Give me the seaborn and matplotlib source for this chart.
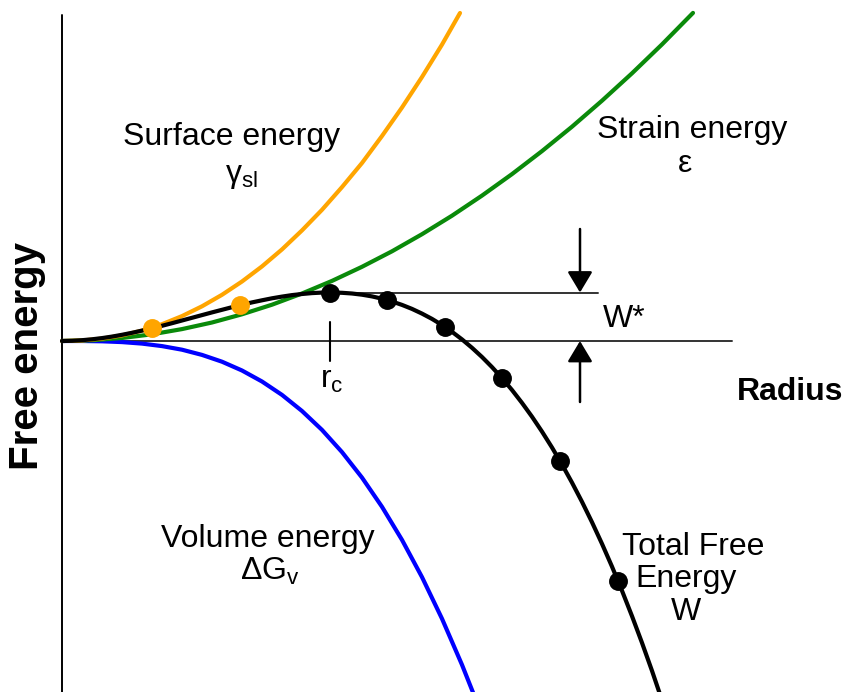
import matplotlib
matplotlib.use("Agg")
import matplotlib.pyplot as plt
import seaborn as sns
import pandas as pd

# ---- data (pixel-like units from the origin) ----
radius_surface = [0, 20, 40, 60, 80, 100, 120, 140, 160, 180, 200, 220, 240, 260,
                  280, 300, 320, 340, 360, 380, 398]
energy_surface = [0, 0.5, 2.4, 5.6, 10.4, 16.8, 24.9, 34.7, 46.2, 59.5, 74.6, 91.6,
                  110.6, 131.2, 153.9, 178, 205, 233.5, 264, 296.4, 328]

radius_strain = [0, 30, 60, 90, 120, 150, 180, 210, 240, 270, 300, 330, 360, 390,
                 420, 450, 480, 510, 540, 570, 600, 631]
energy_strain = [0, 0.7, 3.0, 6.7, 11.9, 18.5, 26.7, 36.3, 47.5, 60.1, 74.2, 89.7,
                 106.8, 125.3, 145.4, 166.9, 189.9, 214.3, 240.3, 267.7, 296.6, 328.1]

radius_volume = [0, 20, 40, 60, 80, 100, 120, 140, 160, 180, 200, 220, 240, 260,
                 280, 300, 320, 340, 360, 380, 400, 412]
energy_volume = [0, 0, -0.3, -1.1, -2.6, -5.1, -8.7, -13.9, -20.7, -29.5, -40.5,
                 -53.9, -70.0, -88.9, -111.1, -136.6, -165.8, -198.9, -236.1,
                 -277.7, -323.8, -354]

radius_total = [0, 10, 20, 30, 40, 50, 60, 70, 80, 90, 100, 110, 120, 130, 140, 150,
                160, 170, 180, 190, 200, 210, 220, 230, 240, 250, 260, 268, 280, 290,
                300, 310, 320, 330, 340, 350, 360, 370, 380, 390, 400, 410, 420, 430,
                440, 450, 460, 470, 480, 490, 500, 510, 520, 530, 540, 550, 560, 570,
                580, 590, 600]
energy_total = [0, 0.2, 0.8, 1.7, 2.9, 4.4, 6.2, 8.2, 10.4, 12.7, 15.2, 17.8, 20.5,
                23.2, 25.9, 28.6, 31.2, 33.8, 36.3, 38.6, 40.7, 42.7, 44.4, 45.9,
                47.0, 47.9, 48.4, 48.5, 48.2, 47.5, 46.3, 44.6, 42.3, 39.5, 36.1,
                32.1, 27.4, 22.1, 16.0, 9.2, 1.6, -6.8, -16.0, -26.1, -37.1, -49.0,
                -61.9, -75.7, -90.6, -106.5, -123.5, -141.6, -160.8, -181.2, -202.8,
                -225.6, -249.7, -275.1, -301.8, -329.8, -359.3]

dots_radius = [268, 325, 383, 440, 498, 556]
dots_energy = [48.5, 41, 14, -37, -120, -240]

nuclei_radius = [90, 178]
nuclei_energy = [12.7, 36]

r_critical = 268
w_star = 48.5

# ---- figure ----
sns.set_theme(style="white")
plt.rcParams["font.family"] = ["Liberation Sans", "DejaVu Sans"]
plt.rcParams["text.color"] = "black"
plt.rcParams["mathtext.fontset"] = "custom"
plt.rcParams["mathtext.rm"] = "Liberation Sans"
plt.rcParams["mathtext.it"] = "Liberation Sans"

fig = plt.figure(figsize=(8.42, 6.92), dpi=100)
ax = fig.add_axes([0, 0, 1, 1])

# axes lines
ax.plot([0, 0], [326, -351], color="black", lw=1.4, zorder=1)
ax.plot([0, 670], [0, 0], color="#333333", lw=1.4, zorder=1)
ax.plot([r_critical, 536], [w_star, w_star], color="#333333", lw=1.4, zorder=1)
ax.plot([r_critical, r_critical], [19, -20], color="black", lw=1.5, zorder=1)

lw = 3.0
line_kw = dict(sort=False, estimator=None, lw=lw, ax=ax, solid_joinstyle="round")
sns.lineplot(data=pd.DataFrame({"r": radius_volume, "e": energy_volume}), x="r", y="e",
             color="#0000ff", zorder=2, **line_kw)
sns.lineplot(data=pd.DataFrame({"r": radius_strain, "e": energy_strain}), x="r", y="e",
             color="#0a8a0a", zorder=3, **line_kw)
sns.lineplot(data=pd.DataFrame({"r": radius_surface, "e": energy_surface}), x="r", y="e",
             color="#ffa500", zorder=4, **line_kw)
sns.lineplot(data=pd.DataFrame({"r": radius_total, "e": energy_total}), x="r", y="e",
             color="black", zorder=5, **line_kw)

sns.scatterplot(x=dots_radius, y=dots_energy, color="black", s=185, linewidth=0,
                ax=ax, zorder=6)
sns.scatterplot(x=nuclei_radius, y=nuclei_energy, color="#ffa500", s=185, linewidth=0,
                ax=ax, zorder=7)
ax.set_xlim(-62, 780)
ax.set_ylim(-351, 341)
ax.axis("off")

# arrows for W*
arrow_style = dict(arrowstyle="-|>,head_length=0.75,head_width=0.45", color="black",
                   lw=1.8, shrinkA=0, shrinkB=0, mutation_scale=17)
ax.annotate("", xy=(518, w_star), xytext=(518, 112), arrowprops=arrow_style)
ax.annotate("", xy=(518, 0), xytext=(518, -61), arrowprops=arrow_style)

fs = 23
ax.text(170, 196, "Surface energy", fontsize=fs, ha="center", va="baseline")
ax.text(179, 159, "γ$_\\mathregular{sl}$", fontsize=fs, ha="center", va="baseline")
ax.text(630, 203, "Strain energy", fontsize=fs, ha="center", va="baseline")
ax.text(623, 169, "ε", fontsize=fs, ha="center", va="baseline")
ax.text(541, 14, "W*", fontsize=fs, ha="left", va="baseline")
ax.text(675, -59, "Radius", fontsize=fs, fontweight="bold", ha="left", va="baseline")
ax.text(258, -47, "r$_\\mathregular{c}$", fontsize=fs, ha="left", va="baseline")
ax.text(206, -206, "Volume energy", fontsize=fs, ha="center", va="baseline")
ax.text(208, -239, "ΔG$_\\mathregular{v}$", fontsize=fs, ha="center", va="baseline")
ax.text(631, -214, "Total Free", fontsize=fs, ha="center", va="baseline")
ax.text(624, -246, "Energy", fontsize=fs, ha="center", va="baseline")
ax.text(624, -279, "W", fontsize=fs, ha="center", va="baseline")
ax.text(-34.5, -15, "Free energy", fontsize=29, fontweight="bold", rotation=90,
        ha="center", va="center")

fig.savefig("out.png", dpi=100)
